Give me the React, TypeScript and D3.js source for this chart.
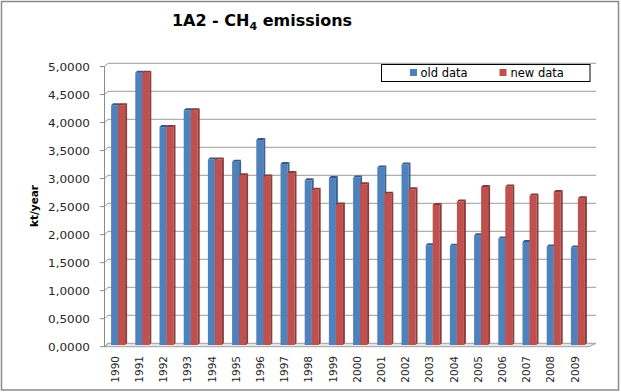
import React from "react";
import * as d3 from "d3";

const years = ["1990","1991","1992","1993","1994","1995","1996","1997","1998","1999","2000","2001","2002","2003","2004","2005","2006","2007","2008","2009"];
const oldData = [4.28, 4.86, 3.89, 4.19, 3.31, 3.27, 3.66, 3.23, 2.94, 2.98, 2.99, 3.17, 3.22, 1.78, 1.77, 1.96, 1.90, 1.84, 1.76, 1.74];
const newData = [4.28, 4.86, 3.89, 4.19, 3.31, 3.03, 3.01, 3.07, 2.77, 2.51, 2.87, 2.70, 2.78, 2.50, 2.56, 2.82, 2.83, 2.67, 2.73, 2.62];
const yTicks = [0, 0.5, 1, 1.5, 2, 2.5, 3, 3.5, 4, 4.5, 5];
const seriesNames = ["old data", "new data"];

const W = 621, H = 392;
const FONT = "'DejaVu Sans', Verdana, sans-serif";

export default function App() {
  const yFront = d3.scaleLinear().domain([0, 5]).range([346.7, 66.5]);
  const yBack = d3.scaleLinear().domain([0, 5]).range([343.3, 63.3]);
  const yBar = d3.scaleLinear().domain([0, 5]).range([345, 64.9]);
  const x = d3.scaleBand().domain(years).range([106, 590]).padding(0);
  const bw = 7, dx = 2, dy = 2;
  const colors = ["#4F81BD", "#C0504D"];
  const sideColors = ["#3A6494", "#8E3B39"];
  const topColors = ["#34598A", "#8A3735"];
  const fmt = (v: number) => v.toFixed(4).replace(".", ",");

  const bar = (xl: number, v: number, i: number, key: string) => {
    const y0 = yBar(0), y1 = yBar(v);
    return (
      <g key={key}>
        <rect x={xl} y={y1} width={bw} height={y0 - y1} fill={colors[i]} />
        <polygon points={`${xl + bw},${y1} ${xl + bw + dx},${y1 - dy} ${xl + bw + dx},${y0 - dy} ${xl + bw},${y0}`} fill={sideColors[i]} />
        <polygon points={`${xl},${y1} ${xl + dx},${y1 - dy} ${xl + bw + dx},${y1 - dy} ${xl + bw},${y1}`} fill={topColors[i]} />
      </g>
    );
  };

  return (
    <svg width={W} height={H} style={{ position: "absolute", left: 0, top: 0 }} fontFamily={FONT}>
      <rect x={0} y={0} width={W} height={H} fill="#ffffff" />
      <rect x={1.5} y={1.5} width={617} height={388.5} fill="none" stroke="#8a8a8a" strokeWidth={1.5} />
      <text x={262} y={26} textAnchor="middle" fontSize={16} fontWeight="bold" fill="#000">
        1A2 - CH<tspan fontSize={11} dy={3.5}>4</tspan><tspan dy={-3.5}> emissions</tspan>
      </text>

      <polygon points={`104.5,346.7 589,346.7 596,343.3 108,343.3`} fill="#e6e6e6" stroke="#a0a0a0" strokeWidth={1} />

      {yTicks.map((t) => (
        <g key={"g" + t}>
          {t > 0 && <line x1={108} x2={596} y1={yBack(t)} y2={yBack(t)} stroke="#9a9a9a" strokeWidth={1} />}
          <line x1={104.5} x2={108} y1={yFront(t)} y2={yBack(t)} stroke="#9a9a9a" strokeWidth={1} />
          <line x1={100} x2={104.5} y1={yFront(t)} y2={yFront(t)} stroke="#8a8a8a" strokeWidth={1} />
          <text transform={`translate(90,${yFront(t) + 1}) scale(1.2,1)`} dy="0.35em" textAnchor="end" fontSize={10} fill="#262626">{fmt(t)}</text>
        </g>
      ))}
      <line x1={104.5} x2={104.5} y1={yFront(5)} y2={yFront(0)} stroke="#8a8a8a" strokeWidth={1} />

      {years.map((yr, k) => {
        const c = (x(yr) as number) + x.bandwidth() / 2;
        return (
          <g key={yr}>
            {bar(c - bw, oldData[k], 0, yr + "o")}
            {bar(c, newData[k], 1, yr + "n")}
          </g>
        );
      })}

      {years.map((yr) => {
        const c = (x(yr) as number) + x.bandwidth() / 2 - 3;
        return (
          <text key={"l" + yr} transform={`translate(${c},356) rotate(-90)`} dy="0.36em" textAnchor="end" fontSize={10.5} fill="#262626">{yr}</text>
        );
      })}

      <text transform={`translate(34,206) rotate(-90)`} dy="0.35em" textAnchor="middle" fontSize={10.5} fontWeight="bold" fill="#000">kt/year</text>

      <rect x={381.5} y={64.5} width={208.5} height={17} fill="#fff" stroke="#000" strokeWidth={1} />
      <rect x={410} y={69} width={7} height={7} fill={colors[0]} />
      <text x={420.5} y={76.5} fontSize={11.5} fill="#000">{seriesNames[0]}</text>
      <rect x={499.5} y={69} width={7} height={7} fill={colors[1]} />
      <text x={510.5} y={76.5} fontSize={11.5} fill="#000">{seriesNames[1]}</text>
    </svg>
  );
}
